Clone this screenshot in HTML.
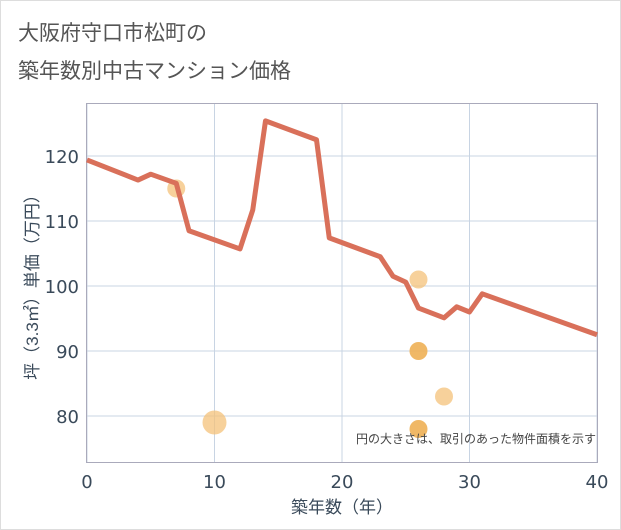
<!DOCTYPE html>
<html><head><meta charset="utf-8"><style>
body{margin:0;background:#fff;}
svg{display:block;font-family:"Liberation Sans","Noto Sans CJK JP",sans-serif;}
</style></head><body>
<svg id="c" width="621" height="530" viewBox="0 0 621 530">
<rect x="0.5" y="0.5" width="620" height="529" fill="#fff" stroke="#ddd"/>
<text x="18" y="40" font-size="21" fill="#555" font-family="DejaVu Sans, Noto Sans CJK JP, sans-serif">大阪府守口市松町の</text>
<text x="18" y="78" font-size="21" fill="#555" font-family="DejaVu Sans, Noto Sans CJK JP, sans-serif">築年数別中古マンション価格</text>
<g id="grid"></g>
<rect x="86.5" y="103.5" width="511" height="359" fill="none" stroke="#aab" stroke-width="1"/>
<g id="bubbles"></g>
<path id="line" fill="none" stroke="#d9705a" stroke-width="5" stroke-linejoin="round"/>
<g id="ticks"></g>
<text x="596" y="443" font-size="12" fill="#444" text-anchor="end">円の大きさは、取引のあった物件面積を示す</text>
<text x="342" y="513" font-size="17" fill="#3a4a5a" text-anchor="middle">築年数（年）</text>
<text transform="translate(38,283) rotate(-90)" font-size="17" fill="#3a4a5a" text-anchor="middle">坪（3.3㎡）単価（万円）</text>
</svg>
<script>
const xTicks=[0,10,20,30,40];
const yTicks=[80,90,100,110,120];
const lineYears=[0,4,5,7,8,12,13,14,18,19,23,24,25,26,28,29,30,31,40];
const linePrices=[119.4,116.3,117.2,115.8,108.5,105.7,111.7,125.4,122.5,107.4,104.5,101.5,100.6,96.6,95.1,96.8,96.0,98.8,92.5];
const bubbleYears=[7,10,26,26,26,28];
const bubblePrices=[115,79,101,90,78,83];
const bubbleSizes=[9,12,9,9,9,9];
const bubbleDark=[0,0,0,1,1,0];
const NS="http://www.w3.org/2000/svg";
const X=v=>87+v*12.75, Y=v=>156+(120-v)*6.5;
const grid=document.getElementById('grid'),ticks=document.getElementById('ticks');
function mk(tag,attrs,parent){const e=document.createElementNS(NS,tag);for(const k in attrs)e.setAttribute(k,attrs[k]);parent.appendChild(e);return e;}
xTicks.forEach(t=>{
 const l=mk('line',{x1:X(t),x2:X(t),y1:103,y2:462,stroke:'#c8d4e3'},grid);
 
 
 const tx=mk('text',{x:X(t),y:488,'font-size':18,fill:'#3a4a5a','text-anchor':'middle','font-family':'DejaVu Sans, sans-serif'},ticks);
 tx.textContent=t;
 
 
});
yTicks.forEach(t=>{
 const l=mk('line',{x1:87,x2:597,y1:Y(t),y2:Y(t),stroke:'#c8d4e3'},grid);
 
 
 const tx=mk('text',{x:79,y:Y(t)+7,'font-size':18,fill:'#3a4a5a','text-anchor':'end','font-family':'DejaVu Sans, sans-serif'},ticks);
 tx.textContent=t;
 
 
});
const bg=document.getElementById('bubbles');
bubbleYears.forEach((yr,i)=>{
 const c=mk('circle',{cx:X(yr),cy:Y(bubblePrices[i]),r:bubbleSizes[i],fill:bubbleDark[i]?'#eeb055':'#f4c27a','fill-opacity':bubbleDark[i]?0.9:0.75},bg);
 
 
});
document.getElementById('line').setAttribute('d',lineYears.map((yr,i)=>(i?'L':'M')+X(yr)+','+Y(linePrices[i])).join(''));
</script>
</body></html>
